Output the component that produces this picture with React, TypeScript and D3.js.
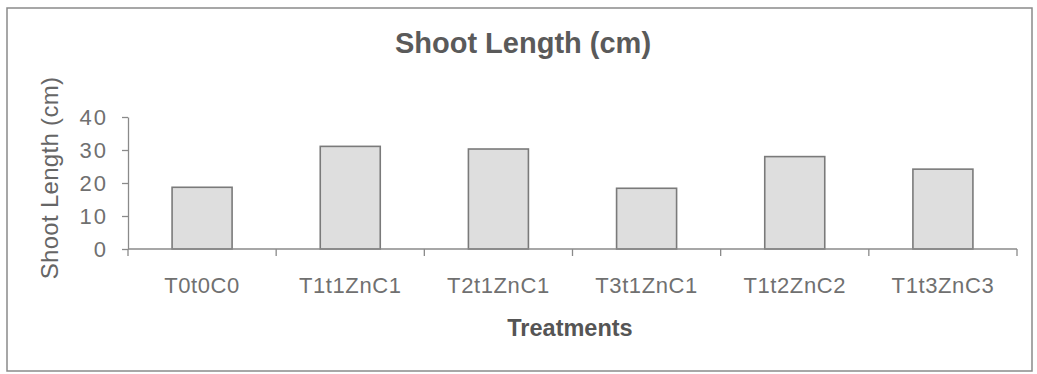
import { useEffect, useRef } from 'react';
import * as d3 from 'd3';

const categories = ['T0t0C0', 'T1t1ZnC1', 'T2t1ZnC1', 'T3t1ZnC1', 'T1t2ZnC2', 'T1t3ZnC3'];
const shootLength = [18.7, 31.1, 30.3, 18.4, 28.0, 24.2];
const yTicks = [0, 10, 20, 30, 40];

const FONT = '"Liberation Sans", Arial, sans-serif';

const App = () => {
    const svgRef = useRef<SVGSVGElement>(null);
    const width = 1037;
    const height = 374;

    useEffect(() => {
        const svg = d3.select(svgRef.current);
        svg.selectAll('*').remove();

        // outer chart frame
        svg.append('rect')
            .attr('x', 7)
            .attr('y', 8)
            .attr('width', 1025)
            .attr('height', 363)
            .attr('fill', '#fff')
            .attr('stroke', '#8a8a8a')
            .attr('stroke-width', 1.5);

        const x = d3.scaleBand()
            .domain(categories)
            .range([128, 1017])
            .paddingInner(0.595)
            .paddingOuter(0.2975);

        const y = d3.scaleLinear()
            .domain([0, 40])
            .range([249, 117]);

        const gap = (x.step() - x.bandwidth()) / 2;

        // bars
        svg.append('g')
            .selectAll('rect')
            .data(categories.map((c, i) => ({ c, v: shootLength[i] })))
            .join('rect')
            .attr('x', d => x(d.c)!)
            .attr('y', d => y(d.v))
            .attr('width', x.bandwidth())
            .attr('height', d => y(0) - y(d.v))
            .attr('fill', '#dedede')
            .attr('stroke', '#7a7a7a')
            .attr('stroke-width', 1.6);

        // y axis
        const yAxis = svg.append('g')
            .attr('transform', 'translate(128,0)')
            .call(d3.axisLeft(y).tickValues(yTicks).tickSize(6).tickPadding(14).tickSizeOuter(0));
        yAxis.select('.domain').attr('stroke', '#8a8a8a').attr('stroke-width', 1.3);
        yAxis.selectAll('.tick line').attr('stroke', '#8a8a8a').attr('stroke-width', 1.3);
        yAxis.selectAll('.tick text')
            .attr('fill', '#707070')
            .attr('font-family', FONT)
            .attr('font-size', 22)
            .attr('letter-spacing', 2)
            .attr('dy', '0.36em');

        // x axis line and boundary ticks
        const xAxis = svg.append('g');
        xAxis.append('line')
            .attr('x1', 128).attr('x2', 1017)
            .attr('y1', y(0)).attr('y2', y(0))
            .attr('stroke', '#8a8a8a').attr('stroke-width', 1.3);
        const bounds = categories.map(c => x(c)! - gap).concat([x(categories[categories.length - 1])! + x.bandwidth() + gap]);
        xAxis.selectAll('.bt')
            .data(bounds)
            .join('line')
            .attr('x1', d => d).attr('x2', d => d)
            .attr('y1', y(0)).attr('y2', y(0) + 7)
            .attr('stroke', '#8a8a8a').attr('stroke-width', 1.3);
        xAxis.selectAll('text')
            .data(categories)
            .join('text')
            .attr('x', d => x(d)! + x.bandwidth() / 2)
            .attr('y', 293)
            .attr('text-anchor', 'middle')
            .attr('fill', '#707070')
            .attr('font-family', FONT)
            .attr('font-size', 22)
            .attr('letter-spacing', 0.6)
            .text(d => d);

        // titles
        svg.append('text')
            .attr('x', 523)
            .attr('y', 53)
            .attr('text-anchor', 'middle')
            .attr('fill', '#5a5a5a')
            .attr('font-family', FONT)
            .attr('font-weight', 'bold')
            .attr('font-size', 29)
            .text('Shoot Length (cm)');

        svg.append('text')
            .attr('x', 570)
            .attr('y', 336)
            .attr('text-anchor', 'middle')
            .attr('fill', '#555')
            .attr('font-family', FONT)
            .attr('font-weight', 'bold')
            .attr('font-size', 23.5)
            .text('Treatments');

        svg.append('text')
            .attr('transform', 'translate(58,178) rotate(-90)')
            .attr('text-anchor', 'middle')
            .attr('fill', '#666')
            .attr('font-family', FONT)
            .attr('font-size', 24)
            .attr('letter-spacing', 0.3)
            .text('Shoot Length (cm)');
    }, []);

    return (
        <div>
            <svg ref={svgRef} width={width} height={height} style={{ position: 'absolute', left: 0, top: 0 }}></svg>
        </div>
    );
};

export default App;
